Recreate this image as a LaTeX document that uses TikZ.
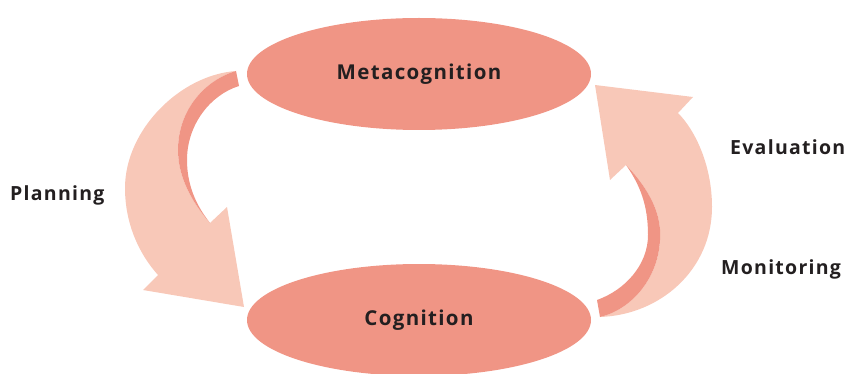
\documentclass[tikz,border=0pt]{standalone}
\usepackage{fontspec}
\usetikzlibrary{shapes.geometric}
\setmainfont{Open Sans}[LetterSpace=6.5]
\definecolor{salmon}{HTML}{F09585}
\definecolor{peach}{HTML}{F8C8B8}
\definecolor{ink}{HTML}{231F20}
\begin{document}
\begin{tikzpicture}[x=1pt,y=-1pt,
  bubble/.style={ellipse, fill=salmon, minimum width=344pt, minimum height=112pt, inner sep=0pt, font=\fontsize{20.5}{24}\selectfont\bfseries, text=ink},
  lbl/.style={font=\fontsize{19.5}{22}\selectfont\bfseries, text=ink, inner sep=0pt}]
\useasboundingbox (0,0) rectangle (848,374);
% left arrow (Planning)
\fill[peach] (236,71) .. controls (180,75) and (125,130) .. (125,188)
  .. controls (125,225) and (140,255) .. (158,275)
  -- (143,290) -- (244,307) -- (227,207) -- (210,223)
  .. controls (190,200) and (178,175) .. (178,150)
  .. controls (178,110) and (205,80) .. (236,71) -- cycle;
\fill[salmon] (236,71) -- (239,86) .. controls (210,95) and (187,125) .. (187,160)
  .. controls (187,190) and (200,210) .. (210,223)
  .. controls (190,200) and (178,175) .. (178,150)
  .. controls (178,110) and (205,80) .. (236,71) -- cycle;
% right arrow (Monitoring / Evaluation)
\fill[peach] (600,317) .. controls (660,315) and (712,270) .. (712,207)
  .. controls (712,165) and (695,130) .. (678,113)
  -- (693,97) -- (595,85) -- (610,180) -- (626,165)
  .. controls (650,190) and (662,215) .. (660,240)
  .. controls (658,280) and (630,310) .. (600,317) -- cycle;
\fill[salmon] (600,317) -- (597,300) .. controls (625,290) and (648,265) .. (648,235)
  .. controls (648,205) and (640,185) .. (626,165)
  .. controls (650,190) and (662,215) .. (660,240)
  .. controls (658,280) and (630,310) .. (600,317) -- cycle;
% ellipses
\node[bubble] (meta) at (419,74) {Metacognition};
\node[bubble] (cog) at (419,320) {Cognition};
% labels
\node[lbl, anchor=west] (plan) at (10,195) {Planning};
\node[lbl, anchor=west] (eval) at (730,147) {Evaluation};
\node[lbl, anchor=west] (mon) at (721,269) {Monitoring};
\end{tikzpicture}
\end{document}
